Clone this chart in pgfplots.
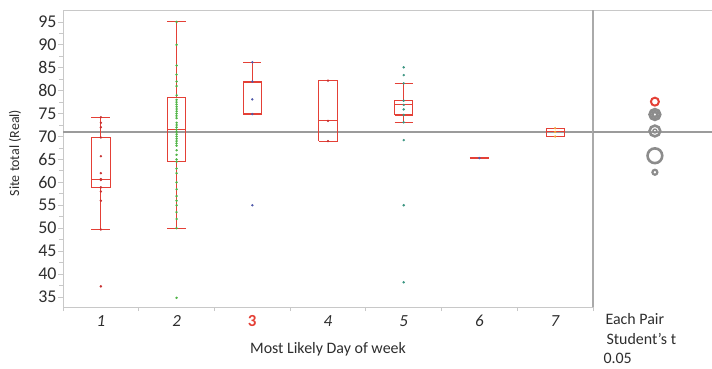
\documentclass[border=0pt]{standalone}
\usepackage{pgfplots}
\pgfplotsset{compat=1.18}
\usepackage{fontspec}
\setmainfont{Carlito}
\definecolor{bxred}{RGB}{228,64,54}
\definecolor{ptred}{RGB}{200,50,50}
\definecolor{ptgreen}{RGB}{80,180,70}
\definecolor{ptblue}{RGB}{80,90,170}
\definecolor{ptteal}{RGB}{60,150,130}
\definecolor{ptorange}{RGB}{240,170,60}
\definecolor{brd}{RGB}{200,200,200}
\definecolor{sep}{RGB}{170,170,170}
\definecolor{mline}{RGB}{155,155,155}
\definecolor{cgray}{RGB}{140,140,140}
\definecolor{txt}{RGB}{45,45,45}
\pgfplotsset{bx/.style={bxred, line width=1.1pt, no marks}}
\begin{document}
\begin{tikzpicture}[x=1bp,y=1bp]
\useasboundingbox (0,0) rectangle (712,368);
\begin{axis}[at={(63bp,61bp)}, anchor=south west, width=530bp, height=297bp, scale only axis,
  xmin=0.5, xmax=7.5, ymin=32.8, ymax=97.6,
  axis line style={brd, line width=0.8pt},
  ytick={35,40,...,95}, minor y tick num=1,
  xtick={1,...,7},
  xticklabels={\textit{1},\textit{2},\textcolor{bxred}{\textbf{3}},\textit{4},\textit{5},\textit{6},\textit{7}},
  minor xtick={0.5,1.5,...,7.5},
  xtick pos=bottom, ytick pos=left,
  tick align=outside,
  major x tick style={draw=none},
  minor x tick style={brd, line width=0.8pt},
  y tick style={brd, line width=0.8pt},
  major tick length=5bp, minor tick length=4bp,
  /pgf/number format/assume math mode=true,
  yticklabel style={font=\fontsize{18}{18}\selectfont, text=txt, xshift=2bp},
  xticklabel style={font=\fontsize{17}{17}\selectfont, text=txt},
  clip=false,
]
\addplot[mline, line width=1.2pt] coordinates {(0.5,71.0) (7.5,71.0)};
% day 1
\addplot[bx] coordinates {(0.875,58.9)(1.125,58.9)(1.125,69.8)(0.875,69.8)(0.875,58.9)};
\addplot[bx] coordinates {(0.875,60.7)(1.125,60.7)};
\addplot[bx] coordinates {(1,69.8)(1,74.2)};
\addplot[bx] coordinates {(0.875,74.2)(1.125,74.2)};
\addplot[bx] coordinates {(1,58.9)(1,49.7)};
\addplot[bx] coordinates {(0.875,49.7)(1.125,49.7)};
% day 2
\addplot[bx] coordinates {(1.88,64.5)(2.12,64.5)(2.12,78.5)(1.88,78.5)(1.88,64.5)};
\addplot[bx] coordinates {(1.88,71.6)(2.12,71.6)};
\addplot[bx] coordinates {(2,78.5)(2,95.0)};
\addplot[bx] coordinates {(1.88,95.0)(2.12,95.0)};
\addplot[bx] coordinates {(2,64.5)(2,50.0)};
\addplot[bx] coordinates {(1.88,50.0)(2.12,50.0)};
% day 3
\addplot[bx] coordinates {(2.88,74.9)(3.12,74.9)(3.12,81.9)(2.88,81.9)(2.88,74.9)};
\addplot[bx] coordinates {(2.88,81.9)(3.12,81.9)};
\addplot[bx] coordinates {(3,81.9)(3,86.2)};
\addplot[bx] coordinates {(2.88,86.2)(3.12,86.2)};
% day 4
\addplot[bx] coordinates {(3.88,69.0)(4.12,69.0)(4.12,82.2)(3.88,82.2)(3.88,69.0)};
\addplot[bx] coordinates {(3.88,73.4)(4.12,73.4)};
% day 5
\addplot[bx] coordinates {(4.88,74.7)(5.12,74.7)(5.12,77.8)(4.88,77.8)(4.88,74.7)};
\addplot[bx] coordinates {(4.88,76.9)(5.12,76.9)};
\addplot[bx] coordinates {(5,77.8)(5,81.6)};
\addplot[bx] coordinates {(4.88,81.6)(5.12,81.6)};
\addplot[bx] coordinates {(5,74.7)(5,73.1)};
\addplot[bx] coordinates {(4.88,73.1)(5.12,73.1)};
% day 6
\addplot[bx] coordinates {(5.875,65.3)(6.125,65.3)};
% day 7
\addplot[bx] coordinates {(6.88,70.0)(7.12,70.0)(7.12,71.8)(6.88,71.8)(6.88,70.0)};
\addplot[bx] coordinates {(6.88,71.0)(7.12,71.0)};
% points
\addplot[only marks, mark=*, mark size=1.0pt, ptred] coordinates {(1,74.2)(1,73)(1,72)(1,69.8)(1,65.7)(1,62)(1,60.7)(1,60.5)(1,58.9)(1,58)(1,56)(1,49.7)(1,37.3)};
\addplot[only marks, mark=*, mark size=1.0pt, ptgreen] coordinates {(2,95)(2,90)(2,85.5)(2,83.5)(2,82)(2,81)(2,79)(2,78)(2,77.5)(2,77)(2,76.5)(2,76)(2,75.5)(2,75)(2,74.5)(2,74)(2,73)(2,72.5)(2,72)(2,71.5)(2,71)(2,70.5)(2,70)(2,69.5)(2,69)(2,68.5)(2,68)(2,67)(2,66)(2,65)(2,64.5)(2,63)(2,62)(2,60)(2,58.5)(2,57)(2,56)(2,55)(2,53.5)(2,52)(2,50)(2,34.8)};
\addplot[only marks, mark=*, mark size=1.0pt, ptblue] coordinates {(3,86.2)(3,82)(3,78.1)(3,74.9)(3,55)};
\addplot[only marks, mark=*, mark size=1.0pt, ptred] coordinates {(4,82.2)(4,73.4)(4,69)};
\addplot[only marks, mark=*, mark size=1.0pt, ptteal] coordinates {(5,85.1)(5,83.4)(5,81.6)(5,77.8)(5,76.9)(5,75.9)(5,74.7)(5,73.1)(5,69.2)(5,55)(5,38.2)};
\addplot[only marks, mark=*, mark size=1.0pt, ptblue] coordinates {(6,65.3)};
\addplot[only marks, mark=*, mark size=1.0pt, ptorange] coordinates {(7,71.8)(7,71)(7,70)};
\end{axis}
\begin{axis}[at={(593bp,61bp)}, anchor=south west, width=119bp, height=297bp, scale only axis,
  xmin=0, xmax=1, ymin=32.8, ymax=97.6,
  axis x line*=top, axis y line*=left,
  x axis line style={brd, line width=0.8pt, -},
  y axis line style={sep, line width=1.2pt, -},
  xtick=\empty, ytick=\empty, clip=false,
]
\addplot[mline, line width=1.2pt] coordinates {(0,71.0) (1,71.0)};
\addplot[only marks, mark=o, mark size=4.0pt, line width=2.0pt, bxred] coordinates {(0.52,77.6)};
\addplot[only marks, mark=o, mark size=5.2pt, line width=3.0pt, cgray] coordinates {(0.52,74.8)};
\addplot[only marks, mark=o, mark size=2.5pt, line width=2.5pt, cgray] coordinates {(0.52,74.8)};
\addplot[only marks, mark=o, mark size=5.4pt, line width=2.6pt, cgray] coordinates {(0.52,71.2)};
\addplot[only marks, mark=o, mark size=2.0pt, line width=1.4pt, cgray] coordinates {(0.52,71.2)};
\addplot[only marks, mark=o, mark size=7.4pt, line width=2.6pt, cgray] coordinates {(0.52,65.8)};
\addplot[only marks, mark=o, mark size=2.5pt, line width=2.2pt, cgray] coordinates {(0.52,62.2)};
\end{axis}
\node[anchor=base, font=\fontsize{16}{16}\selectfont, text=txt] at (328,15) {Most Likely Day of week};
\node[anchor=center, rotate=90, font=\fontsize{14}{14}\selectfont, text=txt] at (15,215) {Site total (Real)};
\node[anchor=base west, font=\fontsize{16}{16}\selectfont, text=txt] at (602,44) {Each Pair};
\node[anchor=base west, font=\fontsize{16}{16}\selectfont, text=txt] at (603,24) {Student's t};
\node[anchor=base west, font=\fontsize{16}{16}\selectfont, text=txt] at (600,5) {0.05};
\end{tikzpicture}
\end{document}
